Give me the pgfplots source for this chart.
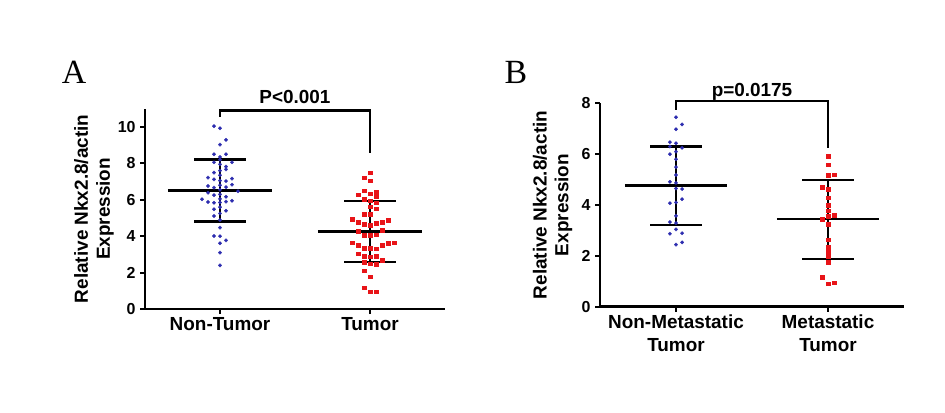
\documentclass[border=0pt]{standalone}
\usepackage{pgfplots}
\pgfplotsset{compat=1.18}
\usepackage{fontspec}
\setmainfont{Liberation Sans}
\newfontfamily\seriffont{Liberation Serif}
\definecolor{dotblue}{RGB}{45,45,175}
\definecolor{dotred}{RGB}{232,20,24}
\pgfplotsset{
  myaxis/.style={
    scale only axis, anchor=south west,
    axis x line*=bottom, axis y line*=left,
    axis line style={line width=2.4bp,-},
    xmin=-0.5, xmax=1.5, ymin=0,
    xtick={0,1},
    tick style={black, line width=2bp},
    tick align=outside, major tick length=5bp,
    /pgf/number format/assume math mode=true,
    yticklabel style={font=\fontsize{16}{16}\selectfont\bfseries, xshift=-1bp},
    xticklabel style={font=\fontsize{19}{23}\selectfont\bfseries, align=center, anchor=north},
    ylabel style={font=\fontsize{19}{22}\selectfont\bfseries, align=center},
    clip=false,
  },
  bluedots/.style={dotblue, only marks, mark=*, mark size=1.8bp, mark options={line width=0.2bp}},
  reddots/.style={dotred, only marks, mark=square*, mark size=1.7bp, mark options={line width=0.2bp}},
  bar/.style={black, line width=2.4bp},
}
\begin{document}
\begin{tikzpicture}
\useasboundingbox (0bp,0bp) rectangle (945bp,413bp);
\node[font=\seriffont\fontsize{34}{34}\selectfont] at (74bp,341bp) {A};
\node[font=\seriffont\fontsize{34}{34}\selectfont] at (516bp,341bp) {B};
% ---------------- Panel A
\begin{axis}[myaxis, at={(145bp,104bp)}, width=300bp, height=200.2bp,
  ymax=11, ytick={0,2,4,6,8,10},
  xticklabels={Non-Tumor,Tumor},
  ylabel={Relative Nkx2.8/actin\\Expression},
  ylabel style={at={(axis description cs:-0.17,0.5)}, anchor=center},
]
\addplot[bluedots] coordinates {
(-0.04,10.05) (0,9.93) (0.04,9.29) (0,9.03) (-0.04,8.50) (0.04,8.50) (0,8.35)
(-0.04,8.06) (0.08,8.06) (0,8.2) (0.04,7.82) (0.04,7.67) (0,7.95) (-0.04,7.49)
(0,7.6) (0,7.35) (-0.08,7.22) (-0.04,7.12) (0.04,7.03) (0.08,7.16) (0,7.05)
(0.08,6.83) (-0.08,6.76) (-0.04,6.67) (0.04,6.70) (0,6.8) (0,6.55) (0.12,6.47)
(-0.08,6.39) (-0.04,6.26) (0.04,6.17) (0,6.3) (0,6.05) (-0.12,6.03) (-0.08,5.88)
(0,5.85) (-0.04,5.84) (0.08,5.95) (0.04,5.9) (0,5.6) (-0.04,5.48) (0.04,5.40)
(0,5.25) (-0.04,5.11) (0,4.89) (0,4.47) (-0.04,4.01) (0,4.0) (0.04,3.77)
(0,3.61) (0,3.10) (0,2.40)
};
\addplot[reddots] coordinates {
(1,7.49) (0.96,7.23) (1,7.05) (0.96,6.50) (0.92,6.28) (1,6.34) (1.04,6.45)
(1.04,6.21) (0.96,6.03) (1,5.95) (1.04,5.84) (1,5.62) (1.04,5.51) (0.96,5.22)
(1,5.22) (0.88,4.93) (0.92,4.78) (0.96,4.67) (1,4.6) (1.04,4.71) (1.08,4.78)
(1.12,4.89) (0.92,4.27) (0.96,4.05) (1,4.05) (1.04,4.08) (1.08,4.34)
(0.88,3.64) (0.92,3.50) (0.96,3.35) (1,3.35) (1.04,3.31) (1.08,3.50)
(1.12,3.61) (1.16,3.64) (0.92,3.06) (0.96,2.91) (1,2.88) (1.04,2.91)
(1.08,2.69) (0.96,2.58) (1,2.5) (1.04,2.47) (0.96,2.11) (1,1.78)
(0.96,1.19) (1,0.97) (1.04,0.97)
};
% error bars
\addplot[bar] coordinates {(-0.347,6.50) (0.347,6.50)};
\addplot[bar] coordinates {(0,4.80) (0,8.22)};
\addplot[bar] coordinates {(-0.173,8.22) (0.173,8.22)};
\addplot[bar] coordinates {(-0.173,4.80) (0.173,4.80)};
\addplot[bar] coordinates {(0.653,4.25) (1.347,4.25)};
\addplot[bar] coordinates {(1,2.58) (1,5.92)};
\addplot[bar] coordinates {(0.827,5.92) (1.173,5.92)};
\addplot[bar] coordinates {(0.827,2.58) (1.173,2.58)};
% significance
\addplot[bar] coordinates {(0,10.55) (0,10.9) (1,10.9) (1,8.55)};
\node[font=\fontsize{19}{19}\selectfont\bfseries] at (axis cs:0.5,11.66) {P<0.001};
\end{axis}
% ---------------- Panel B
\begin{axis}[myaxis, at={(600bp,106.3bp)}, width=304bp, height=203.4bp,
  ymax=8, ytick={0,2,4,6,8},
  xticklabels={Non-Metastatic\\Tumor,Metastatic\\Tumor},
  ylabel={Relative Nkx2.8/actin\\Expression},
  ylabel style={at={(axis description cs:-0.156,0.5)}, anchor=center},
]
\addplot[bluedots] coordinates {
(0,7.45) (0.04,7.17) (0,6.98) (-0.04,6.47) (0,6.43) (0.04,6.25) (-0.04,6.30)
(-0.04,6.00) (0,6.1) (0,5.80) (0,5.49) (0,5.18) (-0.04,4.91) (0,4.87)
(0.04,4.63) (0,4.65) (-0.04,4.07) (0.04,4.23) (0,4.1) (0,3.57) (-0.04,3.33)
(0,3.29) (0,3.04) (-0.04,2.87) (0.04,2.89) (0.04,2.53) (0,2.44)
};
\addplot[reddots] coordinates {
(1,5.93) (1,5.59) (1,5.17) (1.04,5.20) (0.96,4.71) (1,4.62) (1,4.30)
(1,3.99) (1,3.78) (1.04,3.60) (1,3.57) (0.96,3.45) (1,3.25) (1,2.65)
(1,2.36) (1,2.18) (1,1.99) (1,1.76) (0.96,1.17) (1,0.92) (1.04,0.94)
};
\addplot[bar] coordinates {(-0.336,4.76) (0.336,4.76)};
\addplot[bar] coordinates {(0,3.21) (0,6.30)};
\addplot[bar] coordinates {(-0.171,6.30) (0.171,6.30)};
\addplot[bar] coordinates {(-0.171,3.21) (0.171,3.21)};
\addplot[bar] coordinates {(0.664,3.44) (1.336,3.44)};
\addplot[bar] coordinates {(1,1.88) (1,4.98)};
\addplot[bar] coordinates {(0.829,4.98) (1.171,4.98)};
\addplot[bar] coordinates {(0.829,1.88) (1.171,1.88)};
\addplot[bar] coordinates {(0,7.74) (0,8.1) (1,8.1) (1,6.23)};
\node[font=\fontsize{19}{19}\selectfont\bfseries] at (axis cs:0.5,8.46) {p=0.0175};
\end{axis}
\end{tikzpicture}
\end{document}
